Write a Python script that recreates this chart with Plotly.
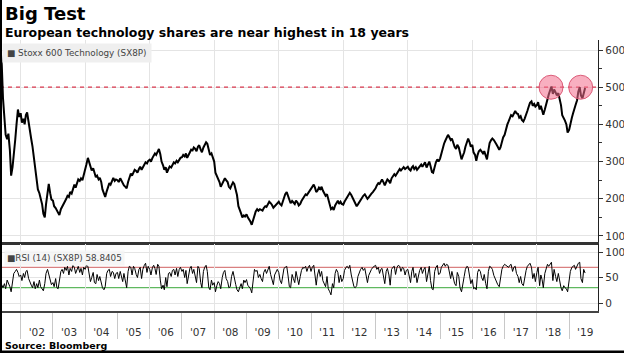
import pandas as pd
import plotly.graph_objects as go

# ---------------- data ----------------
title = "Big Test"
subtitle = "European technology shares are near highest in 18 years"
source = "Source: Bloomberg"
series_name = "Stoxx 600 Technology (SX8P)"
rsi_label = "RSI (14) (SX8P) 58.8405"

start_date = "2001-05-15"  # semi-monthly observations (1st and 15th)

stoxx_2001 = [615, 560, 470, 420, 372, 360, 375, 330, 262, 285, 330, 360, 400, 440, 420]
stoxx_2002 = [430, 405, 415, 400, 425, 432, 410, 385, 360, 340, 310, 275, 250, 225, 215, 200, 185, 160, 150, 185, 215, 240, 215, 198]
stoxx_2003 = [195, 180, 175, 168, 160, 156, 172, 180, 185, 192, 200, 208, 205, 218, 214, 225, 238, 230, 242, 252, 248, 255, 250, 262]
stoxx_2004 = [275, 292, 310, 300, 285, 276, 282, 270, 258, 262, 252, 256, 245, 225, 212, 205, 220, 232, 242, 238, 250, 256, 248, 252]
stoxx_2005 = [250, 245, 255, 248, 240, 236, 232, 228, 245, 258, 268, 262, 272, 278, 275, 270, 280, 286, 278, 285, 292, 298, 295, 302]
stoxx_2006 = [305, 300, 310, 316, 322, 318, 330, 334, 320, 300, 290, 278, 285, 270, 280, 287, 284, 292, 298, 295, 302, 298, 306, 310]
stoxx_2007 = [312, 318, 314, 322, 310, 318, 326, 332, 330, 338, 334, 328, 340, 344, 332, 325, 338, 346, 352, 348, 330, 318, 322, 310]
stoxx_2008 = [300, 270, 262, 255, 245, 232, 240, 248, 255, 250, 245, 232, 228, 236, 244, 240, 225, 210, 180, 168, 160, 150, 155, 152]
stoxx_2009 = [158, 150, 145, 138, 130, 142, 158, 166, 172, 168, 172, 170, 168, 175, 180, 178, 186, 192, 188, 184, 176, 180, 185, 190]
stoxx_2010 = [192, 186, 182, 192, 205, 212, 218, 210, 196, 188, 194, 190, 186, 195, 190, 182, 186, 194, 200, 205, 212, 210, 216, 222]
stoxx_2011 = [225, 232, 238, 230, 218, 222, 230, 226, 232, 222, 215, 208, 212, 200, 185, 172, 176, 170, 182, 190, 195, 186, 192, 186]
stoxx_2012 = [184, 192, 198, 205, 210, 216, 210, 202, 195, 186, 180, 185, 192, 198, 205, 208, 212, 206, 200, 204, 208, 214, 218, 222]
stoxx_2013 = [228, 236, 242, 240, 248, 252, 244, 236, 245, 252, 248, 242, 255, 262, 266, 262, 270, 276, 280, 276, 282, 285, 280, 284]
stoxx_2014 = [286, 280, 276, 284, 288, 280, 285, 278, 284, 288, 292, 286, 294, 298, 284, 290, 300, 288, 272, 270, 290, 298, 306, 300]
stoxx_2015 = [308, 322, 335, 348, 356, 364, 372, 366, 358, 362, 348, 340, 334, 345, 338, 318, 306, 315, 325, 340, 355, 362, 352, 340]
stoxx_2016 = [345, 325, 318, 302, 318, 328, 332, 326, 322, 328, 318, 306, 330, 350, 358, 362, 358, 350, 346, 340, 332, 338, 352, 365]
stoxx_2017 = [372, 388, 400, 408, 416, 425, 422, 430, 436, 430, 428, 418, 422, 412, 408, 415, 425, 436, 448, 458, 462, 450, 455, 448]
stoxx_2018 = [452, 460, 440, 450, 438, 426, 440, 455, 472, 480, 492, 502, 482, 494, 486, 478, 484, 470, 452, 425, 418, 410, 400, 378]
stoxx_2019 = [385, 405, 418, 430, 445, 452, 465, 488, 500, 478, 470, 485, 498]

rsi_2001 = [42, 35, 30, 38, 28, 45, 40, 32, 22, 48, 58, 62, 66, 60, 52]
rsi_2002 = [55, 44, 58, 50, 62, 64, 48, 40, 35, 30, 42, 28, 38, 30, 45, 32, 26, 24, 38, 58, 66, 55, 42, 36]
rsi_2003 = [40, 32, 48, 30, 28, 45, 62, 66, 58, 70, 64, 72, 55, 68, 62, 74, 70, 58, 66, 72, 60, 68, 55, 70]
rsi_2004 = [66, 74, 72, 55, 42, 50, 60, 40, 38, 56, 44, 52, 40, 30, 26, 32, 58, 64, 66, 52, 62, 60, 48, 58]
rsi_2005 = [60, 48, 62, 50, 42, 58, 38, 30, 62, 72, 70, 55, 72, 68, 56, 50, 66, 70, 48, 66, 74, 78, 60, 72]
rsi_2006 = [66, 55, 70, 74, 68, 56, 76, 72, 45, 28, 35, 26, 50, 32, 58, 60, 52, 64, 66, 55, 68, 52, 66, 70]
rsi_2007 = [62, 66, 50, 64, 38, 55, 68, 72, 58, 66, 52, 40, 72, 68, 40, 30, 62, 70, 74, 62, 30, 26, 45, 35]
rsi_2008 = [40, 22, 35, 42, 38, 28, 50, 60, 64, 48, 42, 30, 32, 52, 62, 48, 36, 26, 22, 30, 38, 28, 45, 40]
rsi_2009 = [46, 35, 32, 28, 20, 45, 66, 62, 64, 50, 56, 48, 42, 60, 66, 58, 68, 72, 56, 48, 36, 55, 62, 66]
rsi_2010 = [60, 45, 38, 58, 68, 70, 72, 55, 32, 30, 56, 48, 40, 62, 50, 36, 52, 64, 70, 68, 72, 62, 70, 74]
rsi_2011 = [62, 70, 74, 58, 35, 55, 66, 52, 62, 44, 38, 32, 52, 28, 22, 16, 38, 30, 58, 66, 60, 40, 55, 42]
rsi_2012 = [48, 64, 70, 72, 68, 74, 55, 40, 32, 30, 34, 52, 62, 66, 70, 64, 68, 50, 40, 54, 62, 66, 70, 72]
rsi_2013 = [74, 66, 70, 58, 66, 68, 50, 38, 62, 68, 55, 35, 66, 70, 72, 56, 70, 74, 72, 62, 70, 68, 55, 64]
rsi_2014 = [66, 52, 40, 62, 70, 50, 58, 40, 55, 64, 70, 58, 66, 70, 42, 56, 72, 44, 28, 26, 62, 70, 74, 56]
rsi_2015 = [58, 70, 74, 78, 72, 76, 74, 60, 48, 62, 44, 38, 34, 60, 52, 30, 22, 40, 52, 66, 72, 70, 48, 38]
rsi_2016 = [46, 28, 30, 26, 60, 66, 62, 50, 44, 56, 38, 28, 62, 72, 70, 66, 54, 48, 44, 36, 32, 48, 66, 72]
rsi_2017 = [76, 74, 72, 70, 74, 76, 62, 70, 72, 58, 52, 40, 52, 38, 34, 50, 64, 72, 76, 78, 70, 48, 58, 42]
rsi_2018 = [60, 70, 34, 55, 46, 30, 58, 66, 76, 72, 78, 80, 44, 66, 52, 42, 58, 40, 30, 24, 34, 30, 28, 22]
rsi_2019 = [42, 62, 70, 72, 74, 66, 72, 78, 80, 48, 40, 66, 58.8405]

highlight_dates = ["2018-06-10", "2019-05-12"]
highlight_values = [500, 500]
resistance_level = 500
rsi_overbought = 70
rsi_oversold = 30

x_range = ["2001-05-12", "2019-11-24"]
main_y_range = [84, 627]
rsi_y_range = [-15.7, 115.7]

# ---------------- assemble ----------------
stoxx = (stoxx_2001 + stoxx_2002 + stoxx_2003 + stoxx_2004 + stoxx_2005 + stoxx_2006 + stoxx_2007
         + stoxx_2008 + stoxx_2009 + stoxx_2010 + stoxx_2011 + stoxx_2012 + stoxx_2013 + stoxx_2014
         + stoxx_2015 + stoxx_2016 + stoxx_2017 + stoxx_2018 + stoxx_2019)
rsi = (rsi_2001 + rsi_2002 + rsi_2003 + rsi_2004 + rsi_2005 + rsi_2006 + rsi_2007 + rsi_2008
       + rsi_2009 + rsi_2010 + rsi_2011 + rsi_2012 + rsi_2013 + rsi_2014 + rsi_2015 + rsi_2016
       + rsi_2017 + rsi_2018 + rsi_2019)
stoxx_dates = pd.date_range(start_date, periods=len(stoxx), freq="SMS")
rsi_dates = pd.date_range(start_date, periods=len(rsi), freq="SMS")

FONT = "DejaVu Sans"
GRID = "#e4e4e4"

fig = go.Figure()
# resistance reference line (drawn above the grid, below the data)
fig.add_trace(go.Scatter(x=pd.to_datetime(x_range), y=[resistance_level, resistance_level],
                         mode="lines", line=dict(color="#d9384f", width=1.2, dash="4px,4px"),
                         xaxis="x", yaxis="y", hoverinfo="skip"))
fig.add_trace(go.Scatter(x=stoxx_dates, y=stoxx, mode="lines",
                         line=dict(color="#000000", width=2.0),
                         xaxis="x", yaxis="y", hoverinfo="skip"))
fig.add_trace(go.Scatter(x=pd.to_datetime(highlight_dates), y=highlight_values, mode="markers",
                         marker=dict(size=24, color="rgba(242,110,140,0.55)",
                                     line=dict(color="rgba(215,80,110,0.9)", width=1)),
                         xaxis="x", yaxis="y", hoverinfo="skip"))
fig.add_trace(go.Scatter(x=rsi_dates, y=rsi, mode="lines",
                         line=dict(color="#000000", width=1.0),
                         xaxis="x2", yaxis="y2", hoverinfo="skip"))
# invisible trace carrying the 2-year grid of the RSI panel
fig.add_trace(go.Scatter(x=[rsi_dates[0]], y=[rsi[0]], mode="markers", opacity=0,
                         xaxis="x3", yaxis="y2", hoverinfo="skip"))

fig.add_shape(type="line", xref="x2 domain", x0=0, x1=1, yref="y2",
              y0=rsi_overbought, y1=rsi_overbought, layer="below",
              line=dict(color="#d98080", width=1.2))
fig.add_shape(type="line", xref="x2 domain", x0=0, x1=1, yref="y2",
              y0=rsi_oversold, y1=rsi_oversold, layer="below",
              line=dict(color="#5fb85f", width=1.2))

# image border (left and bottom)
fig.add_shape(type="line", xref="paper", yref="paper", x0=0, x1=0, y0=-0.17, y1=1.17,
              line=dict(color="#000000", width=4))
fig.add_shape(type="line", xref="paper", yref="paper", x0=0, x1=1.06, y0=-0.151, y1=-0.151,
              line=dict(color="#000000", width=3))

tickfont = dict(family=FONT, size=10.5, color="#333333")

fig.update_layout(
    width=624, height=353,
    margin=dict(l=0, r=26, t=40, b=42),
    paper_bgcolor="white", plot_bgcolor="rgba(0,0,0,0)",
    showlegend=False,
    font=dict(family=FONT),
    xaxis=dict(domain=[0, 1], anchor="y", type="date", range=x_range,
               showticklabels=False, ticks="", showgrid=True, gridcolor=GRID,
               dtick="M24", tick0="2002-01-01",
               showline=True, linecolor="#333333", linewidth=3, zeroline=False),
    yaxis=dict(domain=[0.255, 1], anchor="x", side="right", range=main_y_range,
               dtick=100, tick0=0, ticks="outside", ticklen=4, tickcolor="#333333",
               showline=True, linecolor="#222222", linewidth=1.3,
               showgrid=True, gridcolor=GRID, zeroline=False, tickfont=tickfont,
               minor=dict(dtick=50, ticks="outside", ticklen=3, tickcolor="#333333", showgrid=False)),
    xaxis2=dict(domain=[0, 1], anchor="y2", type="date", range=x_range,
                showgrid=False, dtick="M12", tick0="2002-01-01",
                ticklabelmode="period", tickformat="'%y",
                ticks="outside", ticklen=26, tickcolor="#c8c8c8", tickwidth=1,
                ticklabelstandoff=-15,
                showline=True, linecolor="#444444", linewidth=1.5,
                zeroline=False, tickfont=tickfont),
    xaxis3=dict(overlaying="x2", anchor="y2", type="date", range=x_range,
                showgrid=True, gridcolor=GRID, dtick="M24", tick0="2002-01-01",
                showticklabels=False, ticks="", showline=False, zeroline=False),
    yaxis2=dict(domain=[0, 0.247], anchor="x2", side="right", range=rsi_y_range,
                tickvals=[0, 50, 100], ticks="outside", ticklen=4, tickcolor="#333333",
                showline=True, linecolor="#222222", linewidth=1.3,
                showgrid=True, gridcolor=GRID, zeroline=False, tickfont=tickfont),
)

fig.add_annotation(text="<b>" + title + "</b>", xref="paper", yref="paper",
                   x=0, y=1.096, xanchor="left", yanchor="middle", xshift=3, showarrow=False,
                   font=dict(family=FONT, size=18, color="#000000"))
fig.add_annotation(text="<b>" + subtitle + "</b>", xref="paper", yref="paper",
                   x=0, y=1.0295, xanchor="left", yanchor="middle", xshift=3, showarrow=False,
                   font=dict(family=FONT, size=12.5, color="#000000"))
fig.add_annotation(text="<b>" + source + "</b>", xref="paper", yref="paper",
                   x=0, y=-0.1255, xanchor="left", yanchor="middle", xshift=3, showarrow=False,
                   font=dict(family=FONT, size=9.5, color="#000000"))
fig.add_annotation(text="■ " + series_name, xref="paper", yref="paper",
                   x=0, y=1, xanchor="left", yanchor="top", xshift=2, yshift=-3, showarrow=False,
                   bgcolor="#efefef", borderpad=4,
                   font=dict(family=FONT, size=8.8, color="#444444"))
fig.add_annotation(text="■" + rsi_label, xref="paper", yref="paper",
                   x=0, y=0.247, xanchor="left", yanchor="top", xshift=4, yshift=-6, showarrow=False,
                   bgcolor="rgba(245,245,245,0.85)", borderpad=2,
                   font=dict(family=FONT, size=8.8, color="#444444"))

fig.write_html("out.html")
